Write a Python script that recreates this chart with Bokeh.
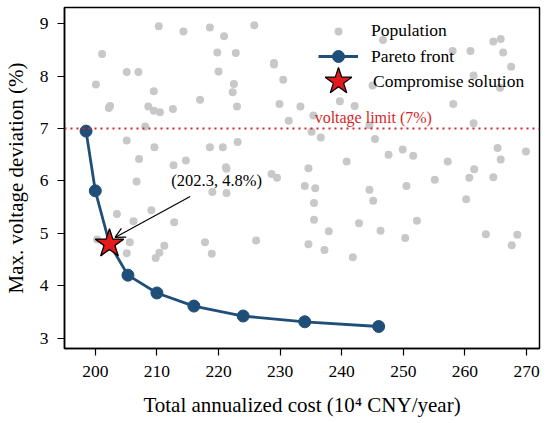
from bokeh.plotting import figure
from bokeh.models import (Range1d, FixedTicker, Span, Label, Arrow, OpenHead,
                          Legend, LegendItem, ColumnDataSource)
from bokeh.embed import file_html
from bokeh.resources import INLINE

# ---------------- data ----------------
pop_x = [210.3, 214.3, 218.6, 220.9, 225.8, 201.1, 219.8, 222.8, 229.0, 229.0,
         205.1, 207.0, 220.0, 230.5, 200.1, 222.5, 209.5, 222.3, 217.0, 202.4,
         202.2, 208.6, 209.5, 210.5, 212.6, 223.0, 229.9, 233.3, 231.4, 208.1,
         205.1, 209.6, 218.6, 220.7, 223.1, 207.1, 212.7, 214.7, 221.2, 221.3,
         228.6, 229.5, 206.7, 234.6, 234.0, 219.0, 221.3, 203.5, 209.1, 206.2,
         212.8, 200.3, 205.6, 205.1, 209.8, 210.4, 211.2, 217.8, 218.9, 226.1,
         234.6, 246.7, 264.6, 265.8, 266.2, 258.0, 260.9, 267.5, 261.4, 245.0,
         265.7, 239.7, 242.1, 258.1, 244.5, 261.4, 235.1, 236.6, 245.4, 265.3,
         269.9, 249.9, 247.6, 251.6, 240.8, 257.2, 265.8, 261.5, 255.1, 260.7,
         264.6, 235.7, 244.5, 250.5, 260.2, 235.5, 245.1, 235.5, 252.2, 242.8,
         237.9, 246.3, 250.3, 237.2, 241.8, 263.4, 268.5, 267.6, 235.4]
pop_y = [8.95, 8.85, 8.93, 8.76, 8.97, 8.42, 8.45, 8.44, 8.25, 8.22,
         8.08, 8.08, 8.09, 7.93, 7.84, 7.85, 7.71, 7.69, 7.55, 7.43,
         7.39, 7.42, 7.34, 7.31, 7.37, 7.42, 7.47, 7.42, 7.15, 7.04,
         6.77, 6.64, 6.64, 6.64, 6.74, 6.42, 6.30, 6.39, 6.26, 6.23,
         6.13, 6.06, 5.99, 6.24, 5.90, 5.79, 5.77, 5.37, 5.44, 5.23,
         5.21, 4.88, 4.83, 4.62, 4.53, 4.63, 4.76, 4.83, 4.61, 4.86,
         4.79, 8.69, 8.66, 8.71, 8.45, 8.48, 8.48, 8.18, 8.01, 7.82,
         7.78, 7.52, 7.43, 7.47, 7.06, 7.10, 6.94, 6.83, 6.80, 6.63,
         6.56, 6.60, 6.50, 6.48, 6.37, 6.37, 6.41, 6.22, 6.02, 6.06,
         6.07, 5.86, 5.83, 5.90, 5.65, 5.58, 5.62, 5.26, 5.24, 5.19,
         5.04, 5.05, 4.91, 4.68, 4.54, 4.98, 4.97, 4.77, 7.25]

pareto_x = [198.5, 200.0, 202.3, 205.3, 210.0, 216.0, 224.0, 234.0, 246.0]
pareto_y = [6.95, 5.81, 4.80, 4.20, 3.86, 3.61, 3.42, 3.31, 3.22]

comp_x = [202.3]
comp_y = [4.8]

voltage_limit = 7.0
x_ticks = [200, 210, 220, 230, 240, 250, 260, 270]
y_ticks = [3, 4, 5, 6, 7, 8, 9]

# annotation placement (style)
annot_text_xy = (219.7, 6.0)
arrow_start = (215.4, 5.70)
arrow_end = (203.2, 4.92)
limit_label_xy = (235.6, 7.21)

FONT = "Liberation Serif"
BLUE = "#1f4e79"
GRAY = "#c8c8c8"
RED = "#d62728"

p = figure(width=550, height=423, output_backend="svg", toolbar_location=None,
           x_range=Range1d(195.0, 272.1), y_range=Range1d(2.80, 9.31),
           min_border_left=64, min_border_right=11, min_border_top=7,
           min_border_bottom=75)

p.grid.visible = False
p.outline_line_color = "black"
p.outline_line_width = 1.5
p.background_fill_color = "white"

for ax in (p.xaxis[0], p.yaxis[0]):
    ax.axis_line_width = 1.5
    ax.major_tick_line_width = 1.2
    ax.major_tick_out = 7
    ax.major_tick_in = 0
    ax.minor_tick_line_color = None
    ax.major_label_text_font = FONT
    ax.major_label_text_font_size = "17.5px"
    ax.major_label_text_color = "black"
    ax.axis_label_text_font = FONT
    ax.axis_label_text_font_size = "21px"
    ax.axis_label_text_font_style = "normal"
    ax.axis_label_text_color = "black"

p.xaxis.ticker = FixedTicker(ticks=x_ticks)
p.yaxis.ticker = FixedTicker(ticks=y_ticks)
p.xaxis.axis_label = "Total annualized cost (10⁴ CNY/year)"
p.yaxis.axis_label = "Max. voltage deviation (%)"
p.xaxis.major_label_standoff = 10
p.yaxis.major_label_standoff = 9
p.xaxis.axis_label_standoff = 13
p.yaxis.axis_label_standoff = 9

# voltage limit line
p.add_layout(Span(location=voltage_limit, dimension="width", line_color=RED,
                  line_width=2, line_dash="2 4"))
p.add_layout(Label(x=limit_label_xy[0], y=limit_label_xy[1],
                   text=f"voltage limit ({voltage_limit:.0f}%)",
                   text_font=FONT, text_font_size="16px", text_color=RED,
                   text_baseline="middle", text_align="left"))

pop_src = ColumnDataSource(dict(x=pop_x, y=pop_y))
r_pop = p.scatter("x", "y", source=pop_src, size=8, color=GRAY, line_color=None)

par_src = ColumnDataSource(dict(x=pareto_x, y=pareto_y))
r_line = p.line("x", "y", source=par_src, line_color=BLUE, line_width=2.8)
r_pts = p.scatter("x", "y", source=par_src, size=12, fill_color=BLUE,
                  line_color=BLUE)

comp_src = ColumnDataSource(dict(x=comp_x, y=comp_y))
r_star = p.scatter("x", "y", source=comp_src, marker="star", size=30,
                   fill_color="#e31a1c", line_color="black", line_width=1.3)

# annotation
p.add_layout(Arrow(end=OpenHead(size=10, line_color="black", line_width=1.2),
                   x_start=arrow_start[0], y_start=arrow_start[1],
                   x_end=arrow_end[0], y_end=arrow_end[1],
                   line_color="black", line_width=1.2))
p.add_layout(Label(x=annot_text_xy[0], y=annot_text_xy[1],
                   text=f"({comp_x[0]}, {comp_y[0]}%)",
                   text_font=FONT, text_font_size="16.5px", text_color="black",
                   text_align="center", text_baseline="middle"))

# legends (one per item so glyph sizes can match)
def mk_legend(label, renderers, gw, gh, loc, standoff):
    lg = Legend(items=[LegendItem(label=label, renderers=renderers)],
                location=loc, glyph_width=gw, glyph_height=gh,
                label_height=20, label_standoff=standoff, padding=0, margin=0,
                spacing=0, border_line_color=None, background_fill_alpha=0,
                label_text_font=FONT, label_text_font_size="17.5px",
                label_text_color="black")
    p.add_layout(lg, "center")

mk_legend("Population", [r_pop], 40, 20, (254, 307), 13)
mk_legend("Pareto front", [r_line, r_pts], 40, 30, (254, 277), 13)
mk_legend("Compromise solution", [r_star], 70, 70, (239, 232), 0)

open("out.html", "w").write(file_html(p, INLINE))
